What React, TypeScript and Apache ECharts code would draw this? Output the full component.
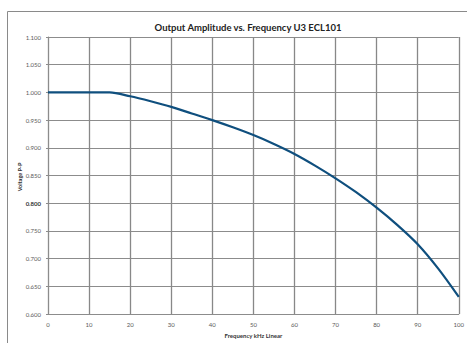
import React, { useEffect, useRef } from "react";
import * as echarts from "echarts";

const title = "Output Amplitude vs. Frequency U3 ECL101";
const xName = "Frequency kHz Linear";
const yName = "Voltage P-P";
const freq = [0, 5, 10, 15, 20, 25, 30, 35, 40, 45, 50, 55, 60, 65, 70, 75, 80, 85, 90, 95, 100];
const volts = [1.0, 1.0, 1.0, 1.0, 0.993, 0.984, 0.974, 0.962, 0.95, 0.937, 0.923, 0.907, 0.889, 0.868, 0.845, 0.82, 0.792, 0.761, 0.726, 0.682, 0.631];

export default function App() {
  const ref = useRef<HTMLDivElement>(null);
  useEffect(() => {
    const chart = echarts.init(ref.current!, null, { renderer: "svg" });
    const font = "Lato, 'Open Sans', sans-serif";
    chart.setOption({
      animation: false,
      backgroundColor: "#fff",
      textStyle: { fontFamily: font },
      title: {
        text: title,
        left: 243,
        textAlign: "center",
        top: 17,
        textStyle: { fontSize: 9.5, fontWeight: "bold", color: "#222", fontFamily: font },
      },
      graphic: [
        {
          type: "rect",
          shape: { x: 7.5, y: 11.5, width: 470, height: 340 },
          style: { fill: "none", stroke: "#8a8a8a", lineWidth: 1 },
          silent: true,
        },
        {
          type: "text",
          x: 20,
          y: 177,
          rotation: Math.PI / 2,
          style: {
            text: yName,
            fontSize: 5.5,
            fontWeight: "bold",
            fill: "#333",
            fontFamily: font,
            align: "center",
            verticalAlign: "middle",
          },
          silent: true,
        },
      ],
      grid: { left: 48, right: 8, top: 37, bottom: 26 },
      xAxis: {
        type: "value",
        min: 0,
        max: 100,
        interval: 10,
        name: xName,
        nameLocation: "middle",
        nameGap: 15,
        nameTextStyle: { fontSize: 6, fontWeight: "bold", color: "#333", fontFamily: font },
        axisLine: { show: true, lineStyle: { color: "#8c8c8c", width: 1 } },
        axisTick: { show: false },
        axisLabel: { fontSize: 6, color: "#595959", margin: 7, fontFamily: font },
        splitLine: { show: true, lineStyle: { color: "#888", width: 1.3 } },
      },
      yAxis: {
        type: "value",
        min: 0.6,
        max: 1.1,
        interval: 0.05,
        axisLine: { show: true, lineStyle: { color: "#8c8c8c", width: 1 } },
        axisTick: { show: true, length: 2, lineStyle: { color: "#8c8c8c" } },
        axisLabel: {
          fontSize: 6,
          color: "#595959",
          margin: 7,
          fontFamily: font,
          formatter: (v: number) => {
            const s = v.toFixed(3);
            return s === "0.800" ? "{b|" + s + "}" : s;
          },
          rich: { b: { fontSize: 6, fontWeight: "bold", color: "#333", fontFamily: font } },
        },
        splitLine: { show: true, lineStyle: { color: "#8c8c8c", width: 1 } },
      },
      series: [
        {
          type: "line",
          data: freq.map((f, i) => [f, volts[i]]),
          smooth: 0.3,
          showSymbol: false,
          lineStyle: { color: "#0f4f7e", width: 2.2 },
        },
      ],
    });
    return () => chart.dispose();
  }, []);
  return <div ref={ref} style={{ position: "fixed", left: 0, top: 0, width: 467, height: 343 }} />;
}
